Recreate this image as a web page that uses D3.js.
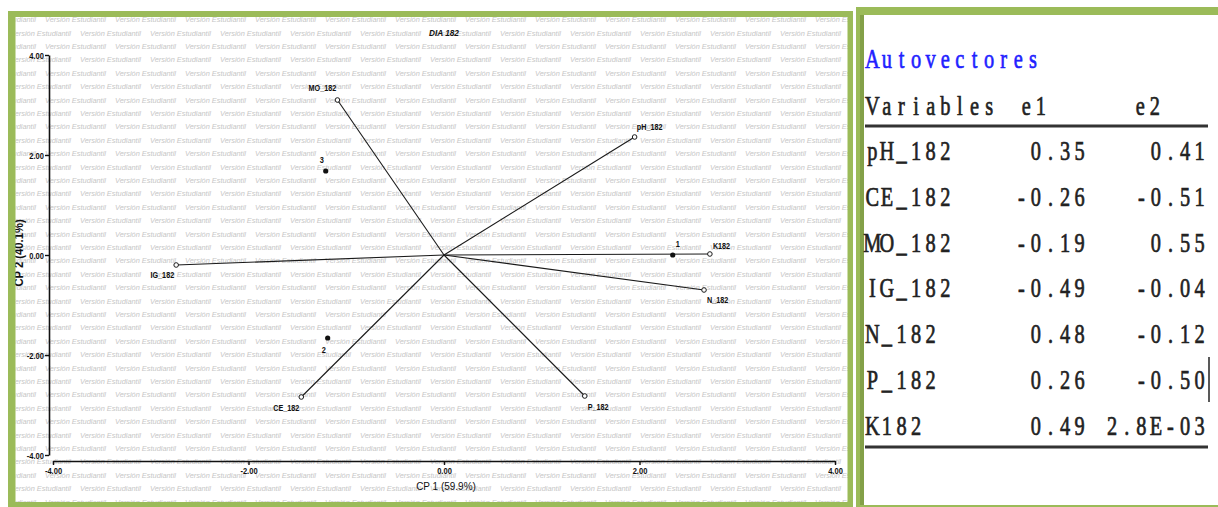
<!DOCTYPE html>
<html><head><meta charset="utf-8">
<script src="https://cdn.jsdelivr.net/npm/d3@7"></script>
<style>
html,body{margin:0;padding:0;background:#fff;}
svg{display:block;}
</style></head><body>
<svg id="c" width="1218" height="507"></svg>
<script>
// ---------------- data ----------------
const vecNames = ["pH_182","CE_182","MO_182","IG_182","N_182","P_182","K182"];
const vecX = [1.95, -1.46, -1.09, -2.74, 2.66, 1.44, 2.72];
const vecY = [2.36, -2.84, 3.10, -0.20, -0.70, -2.82, 0.02];
const obsNames = ["1","2","3"];
const obsX = [2.34, -1.19, -1.21];
const obsY = [0.00, -1.66, 1.68];
const axisTicks = [-4,-2,0,2,4];
const axisTickLabels = ["-4.00","-2.00","0.00","2.00","4.00"];
const chartTitle = "DIA 182";
const xTitle = "CP 1 (59.9%)";
const yTitle = "CP 2 (40.1%)";
const watermark = "Versión Estudiantil";
const tableTitle = "Autovectores";
const tableHeader = ["Variables","e1","e2"];
const tableVars = ["pH_182","CE_182","MO_182","IG_182","N_182","P_182","K182"];
const tableE1 = ["0.35","-0.26","-0.19","-0.49","0.48","0.26","0.49"];
const tableE2 = ["0.41","-0.51","0.55","-0.04","-0.12","-0.50","2.8E-03"];

// label placement (style only)
const vecLabelStyle = {
  "pH_182":{dx:15,dy:-10,a:"middle"},
  "CE_182":{dx:-2,dy:11,a:"end"},
  "MO_182":{dx:-15,dy:-12,a:"middle"},
  "IG_182":{dx:-2,dy:10,a:"end"},
  "N_182":{dx:3,dy:10,a:"start"},
  "P_182":{dx:3,dy:11,a:"start"},
  "K182":{dx:3,dy:-8,a:"start"}
};
const obsLabelStyle = {"1":{dx:5,dy:-11},"2":{dx:-4,dy:12},"3":{dx:-4,dy:-11}};

const GREEN = "#9bbb59";
const SX = 0.84; // horizontal condensing of the chart font
const svg = d3.select("#c");
const FONT = "'Liberation Sans',Arial,sans-serif";

// ---------------- left panel background ----------------
svg.append("rect").attr("x",15.5).attr("y",17).attr("width",832.5).attr("height",485).attr("fill","#fff");
const defs = svg.append("defs");
defs.append("clipPath").attr("id","inner").append("rect")
  .attr("x",15.5).attr("y",17).attr("width",832.5).attr("height",485);

// watermark
const wm = svg.append("g").attr("clip-path","url(#inner)")
  .attr("font-family",FONT).attr("font-style","italic")
  .attr("font-size",7.4).attr("fill","#c6c6c6");
for (let k=0;k<38;k++){
  const yc = 19.6 + 13.4*k;
  const phase = (k%2===1)?10:45;
  for (let xx = phase-70; xx < 860; xx += 70){
    wm.append("text").attr("x",xx).attr("y",yc+2.6).text(watermark);
  }
}

// condensed text helper
function ctext(g, str, tx, ty, opts){
  return g.append("text")
    .attr("transform",`translate(${tx},${ty})${opts.rot?` rotate(${opts.rot})`:""} scale(${opts.sx||SX},1)`)
    .attr("text-anchor",opts.anchor||"start")
    .attr("font-family",FONT).attr("font-size",opts.size)
    .attr("font-weight",opts.bold?"bold":"normal")
    .attr("font-style",opts.italic?"italic":"normal")
    .attr("fill","#111").text(str);
}

// ---------------- scales & axes ----------------
const x = d3.scaleLinear().domain([-4,4]).range([53,835]);
const y = d3.scaleLinear().domain([-4,4]).range([455,55]);

const gx = svg.append("g").attr("transform","translate(0,461)")
  .call(d3.axisBottom(x).tickValues(axisTicks).tickFormat((d,i)=>axisTickLabels[i]).tickSize(4).tickSizeOuter(0).tickPadding(1));
const gy = svg.append("g").attr("transform","translate(49,0)")
  .call(d3.axisLeft(y).tickValues(axisTicks).tickFormat((d,i)=>axisTickLabels[i]).tickSize(4).tickSizeOuter(0).tickPadding(1));
[gx,gy].forEach(g=>{
  g.select(".domain").attr("stroke","#111").attr("stroke-width",1.6);
  g.selectAll(".tick line").attr("stroke","#111").attr("stroke-width",1.4);
  g.selectAll(".tick text").attr("font-family",FONT).attr("font-size",9).attr("font-weight","bold").attr("fill","#111");
});
gx.selectAll(".tick text").attr("transform",`scale(${SX},1)`).attr("dy","0.85em");
gy.selectAll(".tick text").attr("transform",`translate(-5,0) scale(${SX},1)`).attr("x",0).attr("dy","0.35em");

// titles
ctext(svg, chartTitle, 444, 36, {size:9.8, bold:true, italic:true, anchor:"middle"});
ctext(svg, xTitle, 446, 490, {size:10.5, anchor:"middle", sx:0.95});

// ---------------- biplot vectors ----------------
const vecData = vecNames.map((n,i)=>({n, vx:vecX[i], vy:vecY[i]}));
const vg = svg.append("g");
vg.selectAll("line.v").data(vecData).join("line").attr("class","v")
  .attr("x1",x(0)).attr("y1",y(0)).attr("x2",d=>x(d.vx)).attr("y2",d=>y(d.vy))
  .attr("stroke","#1a1a1a").attr("stroke-width",1.1);
vg.selectAll("circle.v").data(vecData).join("circle").attr("class","v")
  .attr("cx",d=>x(d.vx)).attr("cy",d=>y(d.vy)).attr("r",2.3)
  .attr("fill","#fff").attr("stroke","#1a1a1a").attr("stroke-width",1);
vecData.forEach(d=>{
  const s = vecLabelStyle[d.n];
  ctext(vg, d.n, x(d.vx)+s.dx, y(d.vy)+s.dy+3, {size:8.6, bold:true, anchor:s.a});
});

// observations
const obsData = obsNames.map((n,i)=>({n, ox:obsX[i], oy:obsY[i]}));
const og = svg.append("g");
og.selectAll("circle").data(obsData).join("circle")
  .attr("cx",d=>x(d.ox)).attr("cy",d=>y(d.oy)).attr("r",2.6).attr("fill","#111");
obsData.forEach(d=>{
  const s = obsLabelStyle[d.n];
  ctext(og, d.n, x(d.ox)+s.dx, y(d.oy)+s.dy+3, {size:8.8, bold:true, anchor:"middle"});
});

// y title (partly under the frame, as in the reference)
ctext(svg, yTitle, 23, 253, {size:12.5, bold:true, anchor:"middle", rot:-90, sx:0.9});

// ---------------- left panel frame (drawn on top) ----------------
svg.append("path")
  .attr("d","M8,11H853V520H8Z M15.5,17V502H847.5V17Z")
  .attr("fill",GREEN).attr("fill-rule","evenodd");

// ---------------- right panel ----------------
svg.append("rect").attr("x",856).attr("y",7).attr("width",370).attr("height",510).attr("fill",GREEN);
svg.append("rect").attr("x",864).attr("y",15).attr("width",360).attr("height",490).attr("fill","#fff");
svg.append("rect").attr("x",860).attr("y",15).attr("width",4).attr("height",490).attr("fill","#6f8b3a").attr("opacity",0.55);

// typewriter-like text: each character centred in a fixed cell
const CELL = 14.6, MSX = 0.74;
const SERIF = "'Liberation Serif','DejaVu Serif',serif";
function mono(str, left, baseline, color){
  const xs = Array.from(str).map((c,i)=>((i+0.5)*CELL/MSX).toFixed(2));
  const col = color||"#222";
  svg.append("text").attr("transform",`translate(${left},${baseline}) scale(${MSX},1)`)
    .attr("x",xs.join(" ")).attr("text-anchor","middle")
    .attr("font-family",SERIF).attr("font-size",27.5)
    .attr("fill",col).attr("stroke",col).attr("stroke-width",0.7)
    .text(str);
}
function monoRight(str, right, baseline, color){
  mono(str, right - CELL*Array.from(str).length, baseline, color);
}
mono(tableTitle, 865, 68, "#1f1fff");
mono(tableHeader[0], 865, 115);
mono(tableHeader[1], 1019, 115);
mono(tableHeader[2], 1133, 115);
svg.append("line").attr("x1",865).attr("x2",1208).attr("y1",126).attr("y2",126).attr("stroke","#333").attr("stroke-width",3);
tableVars.forEach((v,i)=>{
  const by = 160 + i*45.8;
  mono(v, 865, by);
  monoRight(tableE1[i], 1087, by);
  monoRight(tableE2[i], 1207, by);
});
svg.append("line").attr("x1",865).attr("x2",1208).attr("y1",447).attr("y2",447).attr("stroke","#333").attr("stroke-width",3);
// text cursor
svg.append("line").attr("x1",1209).attr("x2",1209).attr("y1",357).attr("y2",402).attr("stroke","#222").attr("stroke-width",1.5);
</script>
</body></html>
